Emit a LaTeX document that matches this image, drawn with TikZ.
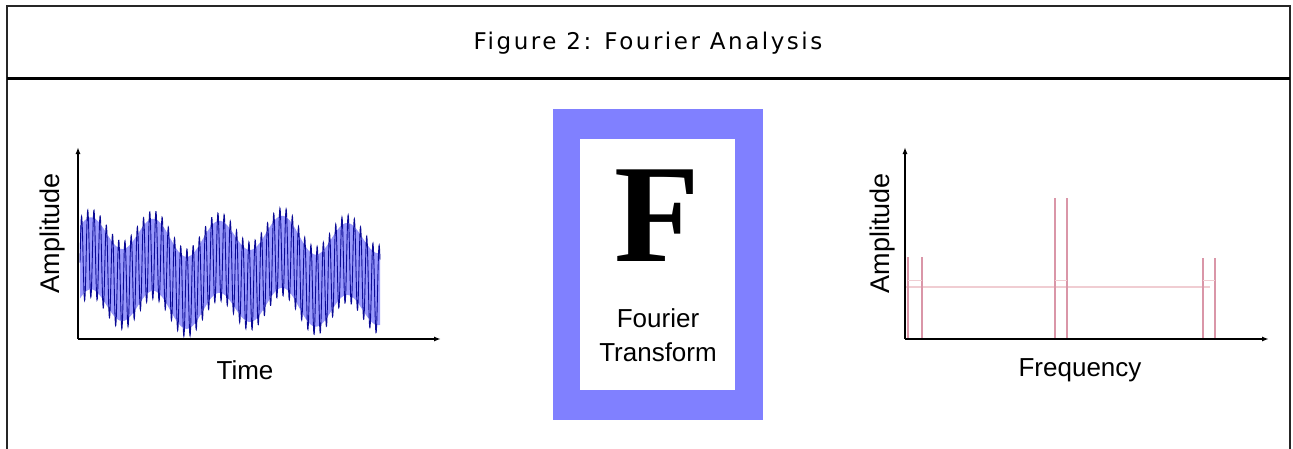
\documentclass[tikz,border=0pt]{standalone}
\usepackage{fontspec}
\setmainfont{Liberation Sans}
\newfontfamily\titlefont[LetterSpace=11]{DejaVu Sans}
\newfontfamily\serifbold{Liberation Serif}
\usetikzlibrary{arrows.meta}
\definecolor{boxblue}{RGB}{128,128,255}
\definecolor{sigblue}{RGB}{10,10,150}
\definecolor{bandblue}{RGB}{120,120,250}
\definecolor{speclight}{RGB}{240,205,210}
\definecolor{specdark}{RGB}{218,150,168}
\tikzset{
  frame/.style={line width=1.6pt, draw=black!85},
  axis/.style={line width=1.6pt, -{Latex[length=7pt,width=5pt]}},
  lbl/.style={font=\fontsize{26}{34}\selectfont, inner sep=0pt},
  ylbl/.style={font=\fontsize{27}{34}\selectfont, inner sep=0pt, rotate=90},
  spike/.style={draw=specdark, line width=1.1pt},
}
\begin{document}
\begin{tikzpicture}[x=1pt,y=-1pt]
\useasboundingbox (0,0) rectangle (1293,448);
% frame
\draw[frame] (7,449) -- (7,6) -- (1290,6) -- (1290,449);
\draw[line width=2.6pt] (7,78.5) -- (1290,78.5);
\node[inner sep=0pt, font=\titlefont\fontsize{23}{28}\selectfont] (title) at (648,43.5) {Figure 2: Fourier Analysis};

% left plot
\coordinate (lo) at (78,339);
\coordinate (ly) at (78,147);
\coordinate (lx) at (441,339);
\fill[bandblue, opacity=0.75]
  plot[domain=0:300, samples=150] ({80+\x}, {272 - 17*cos((\x-10)/64.25*360) - 4*sin(\x/150*360) - 36})
  -- plot[domain=300:0, samples=150] ({80+\x}, {272 - 17*cos((\x-10)/64.25*360) - 4*sin(\x/150*360) + 36}) -- cycle;
\draw[sigblue, line width=0.9pt]
  plot[domain=0:300, samples=1500] ({80+\x}, {272 - 17*cos((\x-10)/64.25*360) - 4*sin(\x/150*360) - 44*sin(mod(\x,6.2)/6.2*360)});
\draw[axis] (lo) -- (ly);
\draw[axis] (lo) -- (lx);
\node[ylbl] (lamp) at (53,233) {Amplitude};
\node[lbl] (ltime) at (245,370) {Time};

% middle box
\fill[boxblue] (553,109) rectangle (763,420);
\fill[white] (580,139) rectangle (735,390);
\node[inner sep=0pt, font=\serifbold\bfseries\fontsize{140}{140}\selectfont] (bigF) at (657,216) {F};
\node[lbl, align=center] (ftlabel) at (658,335) {Fourier\\Transform};

% right plot
\coordinate (ro) at (905,339);
\coordinate (ry) at (905,147);
\coordinate (rx) at (1269,339);
\draw[speclight, line width=1.3pt] (905,287) -- (1210,287);
\foreach \a/\b/\t in {908/922/257, 1055/1067/198, 1203/1215/258}{
  \draw[spike] (\a,339) -- (\a,\t);
  \draw[spike] (\b,339) -- (\b,\t);
  \draw[speclight, line width=1pt] (\a,280) -- (\b,280);
}
\draw[axis] (ro) -- (ry);
\draw[axis] (ro) -- (rx);
\node[ylbl] (ramp) at (883,233) {Amplitude};
\node[lbl] (rfreq) at (1080,370) {Frequency};
\end{tikzpicture}
\end{document}
